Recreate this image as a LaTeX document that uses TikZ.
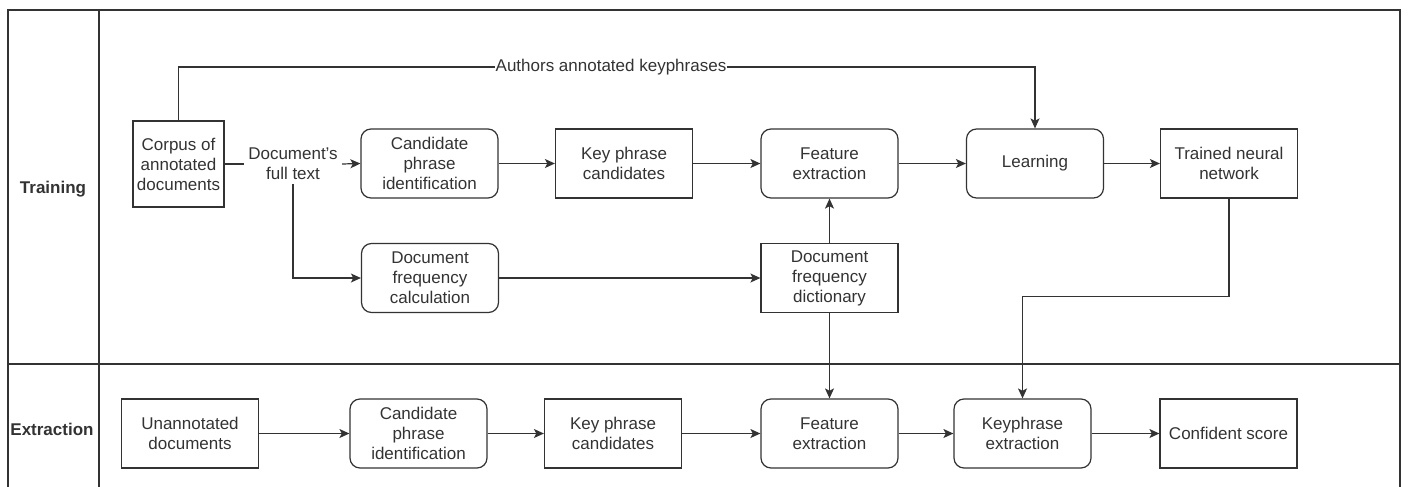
\documentclass[tikz,border=0pt]{standalone}
\usepackage{fontspec}
\setmainfont{Liberation Sans}
\usetikzlibrary{arrows.meta}
\definecolor{ink}{HTML}{333333}

\begin{document}
\begin{tikzpicture}[x=0.5pt,y=-0.5pt,
	every node/.style={text=ink,font=\fontsize{8.5}{10}\selectfont,align=center},
	box/.style={draw=ink,line width=0.6pt,minimum width=68.5pt,minimum height=34.5pt,inner sep=0pt},
	rbox/.style={box,rounded corners=5pt},
	conn/.style={draw=ink,line width=0.6pt},
	arr/.style={conn,-{Stealth[length=5pt,width=4.5pt,inset=1.2pt]}},
	lanename/.style={font=\fontsize{8.5}{10}\selectfont\bfseries}]
	\useasboundingbox (0,0) rectangle (1408,487);
	% pool and lanes
	\draw[conn] (8,487) -- (8,10) -- (1400,10) -- (1400,487);
	\draw[conn] (99,10) -- (99,487);
	\draw[conn] (8,364) -- (1400,364);
	\node[lanename] (training) at (53,189) {Training};
	\node[lanename] (extraction) at (52,429) {Extraction};
	
	% training lane
	\node[box,minimum width=45.5pt,minimum height=43pt] (corpus) at (178.5,164) {Corpus of\\annotated\\documents};
	\node[inner sep=2pt] (fulltext) at (293,164) {Document's\\full text};
	\node[rbox] (cand1) at (429.5,163.5) {Candidate\\phrase\\identification};
	\node[box] (kpc1) at (624,163.5) {Key phrase\\candidates};
	\node[rbox] (feat1) at (829.5,163.5) {Feature\\extraction};
	\node[rbox] (learn) at (1035,163.5) {Learning};
	\node[box] (tnn) at (1229,163.5) {Trained neural\\network};
	\node[rbox] (dfc) at (430,278) {Document\\frequency\\calculation};
	\node[box] (dfd) at (829.5,278) {Document\\frequency\\dictionary};
	\node[fill=white,inner sep=0pt] (authors) at (611,67) {Authors annotated keyphrases};
	
	% extraction lane
	\node[box] (una) at (190,433.5) {Unannotated\\documents};
	\node[rbox] (cand2) at (418.5,433.5) {Candidate\\phrase\\identification};
	\node[box] (kpc2) at (613,433.5) {Key phrase\\candidates};
	\node[rbox] (feat2) at (829.5,433.5) {Feature\\extraction};
	\node[rbox] (kpe) at (1022.5,433.5) {Keyphrase\\extraction};
	\node[box] (conf) at (1228.5,433.5) {Confident score};
	
	% connectors
	\draw[conn] (corpus.east) -- (fulltext.west);
	\draw[arr] (fulltext.east) -- (cand1.west);
	\draw[arr] (cand1) -- (kpc1);
	\draw[arr] (kpc1) -- (feat1);
	\draw[arr] (feat1) -- (learn);
	\draw[arr] (learn) -- (tnn);
	\draw[arr] (fulltext.south) |- (dfc.west);
	\draw[arr] (dfc) -- (dfd);
	\draw[arr] (dfd) -- (feat1);
	\draw[arr] (dfd) -- (feat2);
	\draw[conn] (corpus.north) |- (authors.west);
	\draw[arr] (authors.east) -| (learn.north);
	\draw[arr] (tnn.south) -- ++(0,98) -| (kpe.north);
	\draw[arr] (una) -- (cand2);
	\draw[arr] (cand2) -- (kpc2);
	\draw[arr] (kpc2) -- (feat2);
	\draw[arr] (feat2) -- (kpe);
	\draw[arr] (kpe) -- (conf);
\end{tikzpicture}
\end{document}
